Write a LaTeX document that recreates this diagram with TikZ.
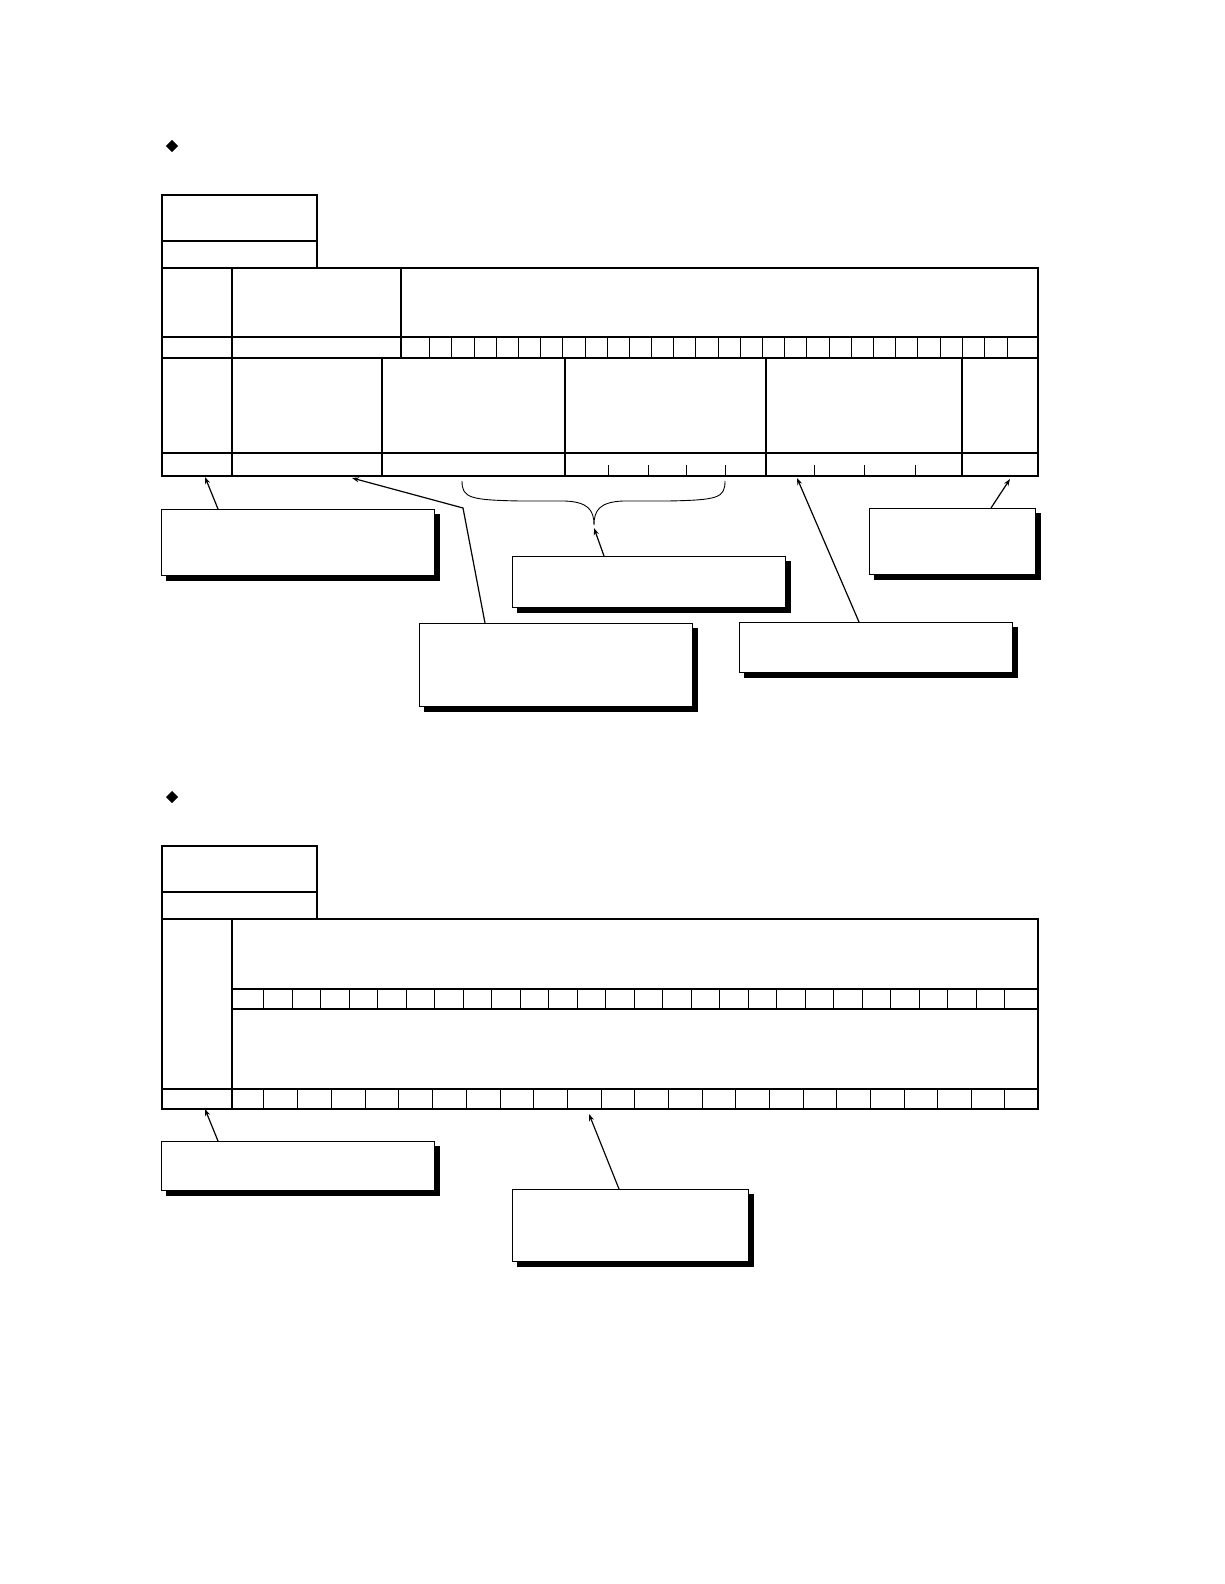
\documentclass[tikz,border=0pt]{standalone}
\usetikzlibrary{arrows.meta}
\begin{document}
\begin{tikzpicture}[x=1pt,y=-1pt,
  grid/.style={line width=1.4pt},
  thin/.style={line width=0.9pt},
  callout/.style={draw,fill=white,line width=1.3pt,inner sep=0pt,anchor=north west,
    preaction={fill=black,draw=black,transform canvas={shift={(4.5pt,-4.5pt)}}}},
  arr/.style={line width=1.2pt,-{Stealth[length=7pt,width=5pt]}}]
\useasboundingbox (0,0) rectangle (1224,1584);
\node[fill=black,rotate=45,inner sep=0pt,minimum size=8.5pt] (b1) at (172,146) {};
\node[fill=black,rotate=45,inner sep=0pt,minimum size=8.5pt] (b2) at (172,797) {};
% ---------- top diagram
\draw[grid] (162,195) rectangle (317,268); \draw[grid] (162,241) -- (317,241);
\draw[grid] (162,268) rectangle (1038,476);
\draw[grid] (162,337) -- (1038,337) (162,358) -- (1038,358) (162,453) -- (1038,453);
\draw[grid] (232,268) -- (232,476) (401,268) -- (401,358);
\foreach \x in {382,565,766,962} \draw[grid] (\x,358) -- (\x,476);
\foreach \x in {429,451,474,496,518,540,562,585,607,629,651,673,695,718,740,762,784,806,829,851,873,895,917,940,962,984,1007}
  \draw[thin] (\x,337) -- (\x,358);
\foreach \x in {608,648,686,725,814,864,915} \draw[thin] (\x,465) -- (\x,476);
\node[callout,minimum width=273pt,minimum height=66pt] (A) at (161,509) {};
\node[callout,minimum width=273pt,minimum height=83pt] (B) at (419,623) {};
\node[callout,minimum width=273pt,minimum height=51pt] (C) at (512,556) {};
\node[callout,minimum width=273pt,minimum height=50pt] (D) at (739,622) {};
\node[callout,minimum width=166pt,minimum height=66pt] (E) at (869,508) {};
\coordinate (a1) at (205,477); \coordinate (b1t) at (352,478); \coordinate (bk) at (463,508);
\coordinate (c1) at (594,528); \coordinate (d1) at (797,478); \coordinate (e1) at (1010,479);
\draw[arr] (218,509) -- (a1);
\draw[arr] (485,623) -- (bk) -- (b1t);
\draw[arr] (604,556) -- (c1);
\draw[arr] (859,622) -- (d1);
\draw[arr] (991,508) -- (e1);
\draw[thin] (462,481) .. controls (462,498) and (470,500) .. (520,501) -- (565,501)
  .. controls (588,502) and (594,510) .. (594,525)
  .. controls (594,510) and (600,502) .. (623,501) -- (668,501)
  .. controls (718,500) and (725,498) .. (725,481);
% ---------- bottom diagram
\draw[grid] (162,846) rectangle (317,919); \draw[grid] (162,892) -- (317,892);
\draw[grid] (162,919) rectangle (1038,1109);
\draw[grid] (232,919) -- (232,1109);
\draw[grid] (232,989) -- (1038,989) (232,1009) -- (1038,1009) (162,1089) -- (1038,1089);
\foreach \x in {263,292,320,349,377,406,434,463,491,520,548,577,605,634,662,691,719,748,776,805,833,862,890,919,947,976,1004}
  \draw[thin] (\x,989) -- (\x,1009);
\foreach \x in {263,297,331,365,398,432,466,500,533,567,601,634,668,702,735,769,803,836,870,904,937,971,1004}
  \draw[thin] (\x,1089) -- (\x,1109);
\node[callout,minimum width=273pt,minimum height=49pt] (F) at (161,1141) {};
\node[callout,minimum width=236pt,minimum height=72pt] (G) at (512,1189) {};
\coordinate (f1) at (205,1109); \coordinate (g1) at (589,1114);
\draw[arr] (218,1141) -- (f1);
\draw[arr] (619,1189) -- (g1);
\end{tikzpicture}
\end{document}
